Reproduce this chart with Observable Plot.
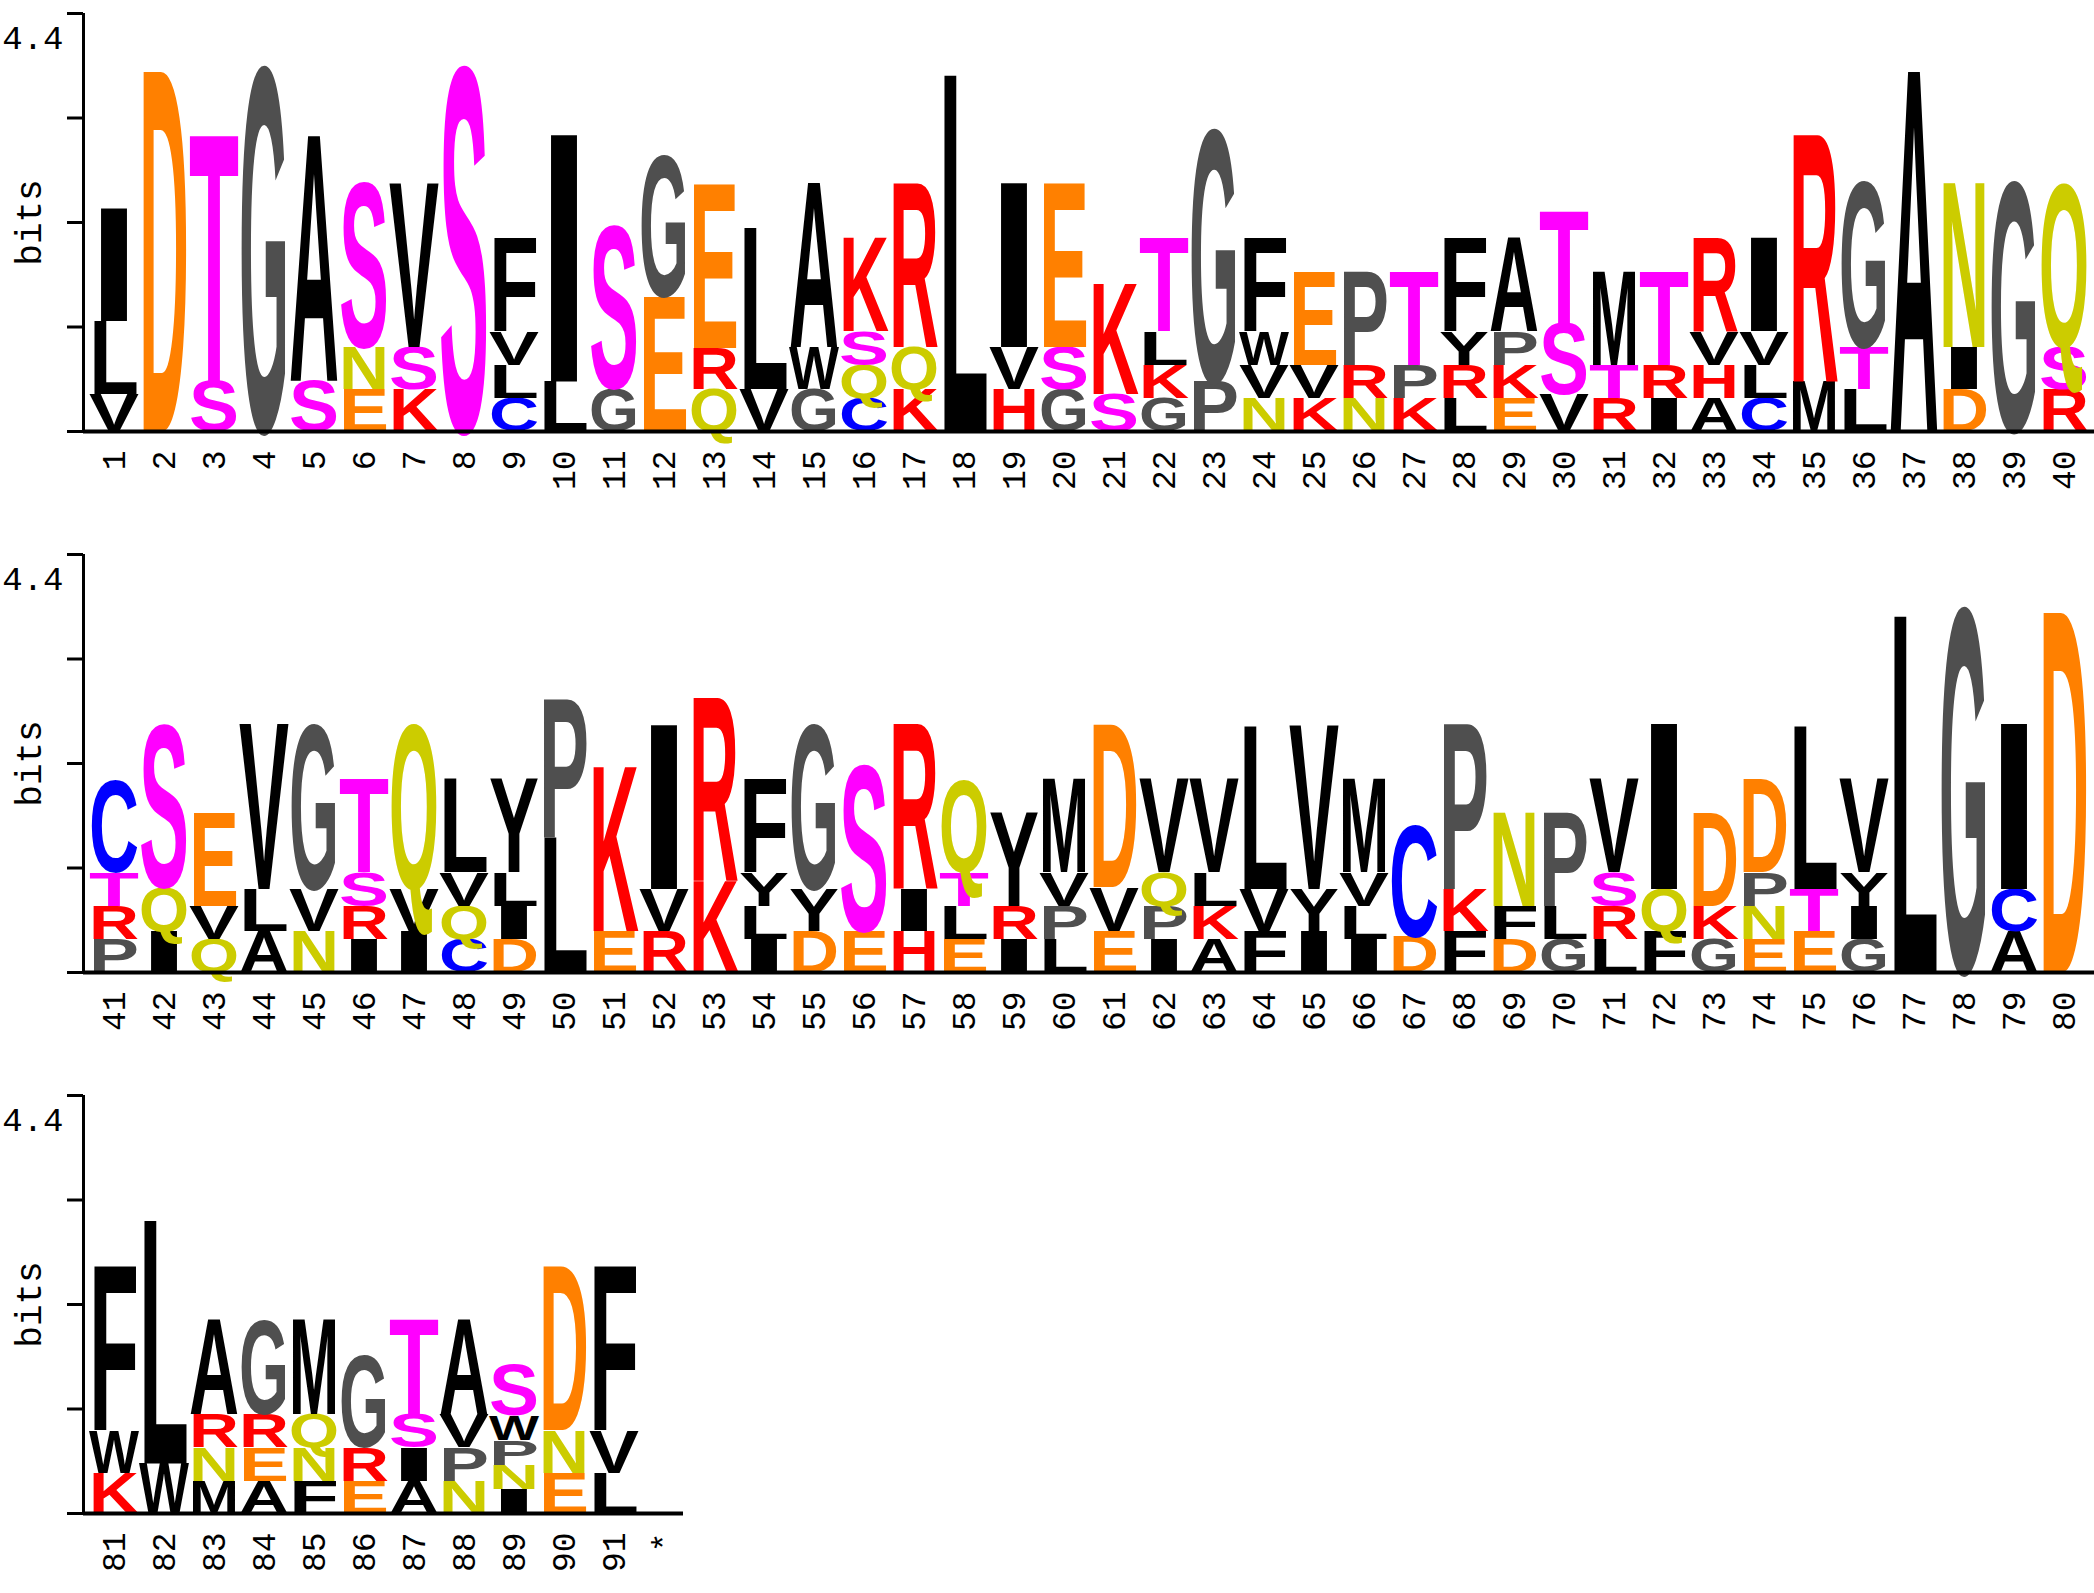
<!DOCTYPE html>
<html>
<head>
<meta charset="utf-8">
<script src="https://cdn.jsdelivr.net/npm/d3@7"></script>
<script src="https://cdn.jsdelivr.net/npm/@observablehq/plot@0.6"></script>
<style>
  html, body { margin: 0; padding: 0; background: #fff; overflow: hidden; }
  svg { display: block; }
</style>
</head>
<body>
<div id="chart"></div>
<script>
// ---- Data: sequence logo, one entry per position (letters bottom -> top, heights in bits) ----
const positionLabels = ["1","2","3","4","5","6","7","8","9","10","11","12","13","14","15","16","17","18","19","20",
  "21","22","23","24","25","26","27","28","29","30","31","32","33","34","35","36","37","38","39","40",
  "41","42","43","44","45","46","47","48","49","50","51","52","53","54","55","56","57","58","59","60",
  "61","62","63","64","65","66","67","68","69","70","71","72","73","74","75","76","77","78","79","80",
  "81","82","83","84","85","86","87","88","89","90","91","*"];

const residues = [
  "VLI","D","ST","G","SA","ENS","KSV","S","CLVF","LI",
  "GS","EG","QRE","VL","GWA","CQSK","KQR","L","HVI","GSE",
  "SK","GKLT","PG","NVWF","KVE","NRP","KPT","LRYF","EKPA","VST",
  "RTM","IRT","AHVR","CLVI","MR","LTG","A","DIN","G","RSQ",
  "PRTC","IQS","QVE","ALV","NVG","IRST","IVQ","CQVL","DILY","LP",
  "EK","RVI","KR","ILYF","DYG","ES","HIR","ELTQ","IRY","LPVM",
  "EVD","IPQV","AKLV","FVL","IYV","ILVM","DC","FKP","DFN","GLP",
  "LRSV","FQI","GKD","ENPD","ETL","GIYV","L","G","ACI","D",
  "KWF","WL","MNRA","AERG","FNQM","ERG","AIST","NPVA","INPWS","END",
  "LVF",""
];

const bits = [
  [0.39,0.77,1.19],[3.79],[0.52,2.59],[3.8],[0.53,2.58],[0.44,0.44,1.71],[0.44,0.44,1.72],[3.8],[0.35,0.35,0.35,0.99],[0.52,2.6],
  [0.45,1.69],[1.42,1.47],[0.44,0.43,1.73],[0.44,1.7],[0.44,0.44,1.72],[0.35,0.35,0.35,0.99],[0.44,0.44,1.72],[3.75],[0.44,0.44,1.72],[0.44,0.44,1.72],
  [0.39,1.16],[0.35,0.35,0.35,0.99],[0.52,2.63],[0.35,0.35,0.35,0.99],[0.35,0.35,0.99],[0.35,0.35,0.99],[0.35,0.35,0.99],[0.35,0.35,0.35,0.99],[0.35,0.35,0.35,0.99],[0.39,0.74,1.18],
  [0.35,0.35,0.99],[0.35,0.35,0.99],[0.35,0.35,0.35,0.99],[0.35,0.35,0.35,0.99],[0.52,2.6],[0.44,0.44,1.72],[3.79],[0.44,0.44,1.72],[2.6],[0.44,0.44,1.7],
  [0.35,0.35,0.35,0.96],[0.43,0.46,1.69],[0.35,0.35,0.99],[0.43,0.44,1.74],[0.43,0.44,1.71],[0.35,0.35,0.35,0.99],[0.43,0.44,1.71],[0.35,0.35,0.35,0.98],[0.35,0.35,0.35,0.98],[1.41,1.46],
  [0.43,1.73],[0.43,0.44,1.73],[0.96,1.93],[0.35,0.35,0.35,0.99],[0.43,0.44,1.71],[0.43,1.72],[0.43,0.44,1.74],[0.35,0.35,0.35,0.96],[0.35,0.35,0.99],[0.35,0.35,0.35,0.99],
  [0.43,0.46,1.71],[0.35,0.35,0.35,0.99],[0.35,0.35,0.35,0.99],[0.43,0.44,1.71],[0.43,0.44,1.72],[0.35,0.35,0.35,0.99],[0.38,1.16],[0.43,0.44,1.74],[0.35,0.35,0.99],[0.35,0.35,0.99],
  [0.35,0.35,0.35,0.99],[0.43,0.44,1.74],[0.35,0.35,0.99],[0.35,0.35,0.35,0.99],[0.43,0.44,1.71],[0.35,0.35,0.35,0.99],[3.75],[3.8],[0.43,0.44,1.74],[3.79],
  [0.42,0.45,1.72],[0.52,2.56],[0.34,0.35,0.35,1.0],[0.34,0.35,0.35,0.97],[0.34,0.35,0.35,1.0],[0.34,0.35,0.96],[0.34,0.35,0.35,1.0],[0.34,0.35,0.35,1.0],[0.25,0.26,0.26,0.26,0.53],[0.42,0.45,1.72],
  [0.42,0.45,1.72],[]
];

const yTicks = [0, 1.1, 2.2, 3.3, 4.4];
const yTickLabel = "4.4";
const yLabel = "bits";

const residueColors = {
  A:"#000000", F:"#000000", I:"#000000", L:"#000000", M:"#000000", V:"#000000", W:"#000000", Y:"#000000",
  G:"#4f4f4f", P:"#4f4f4f",
  S:"#ff00ff", T:"#ff00ff",
  D:"#ff8000", E:"#ff8000",
  H:"#ff0000", K:"#ff0000", R:"#ff0000",
  N:"#cccc00", Q:"#cccc00",
  C:"#0000ff"
};

// ---- Layout of the three logo lines ----
const rows = [
  {first: 1,  last: 40, width: 2094, height: 541, domain: [0.38, 40.6]},
  {first: 41, last: 80, width: 2094, height: 541, domain: [40.38, 80.6]},
  {first: 81, last: 92, width: 683,  height: 511, domain: [80.38, 92.38]}
];

// ---- Build stacked cells ----
const cells = [];
residues.forEach((str, i) => {
  let cum = 0;
  [...str].forEach((letter, j) => {
    const h = bits[i][j];
    cells.push({pos: i + 1, letter, y1: cum, y2: cum + h});
    cum += h;
  });
});
const labels = positionLabels.map((label, i) => ({pos: i + 1, label}));

// glyph metrics
const LETTER_FONT = "Liberation Sans";
const canvas = document.createElement("canvas");
const ctx = canvas.getContext("2d");
ctx.font = `bold 100px "${LETTER_FONT}"`;
let capH = ctx.measureText("E").actualBoundingBoxAscent;
if (!capH || !isFinite(capH) || capH < 40) capH = 68.8;
const advance = {};
function adv(l) {
  if (!(l in advance)) {
    const w = ctx.measureText(l).width;
    advance[l] = (w && isFinite(w) && w > 10) ? w : 72;
  }
  return advance[l];
}

const container = document.getElementById("chart");
const monoFont = "Liberation Mono, DejaVu Sans Mono, monospace";
const SVGNS = "http://www.w3.org/2000/svg";

rows.forEach(row => {
  const rowCells = cells.filter(d => d.pos >= row.first && d.pos <= row.last);
  const rowLabels = labels.filter(d => d.pos >= row.first && d.pos <= row.last);
  const hasAxisMark = typeof Plot.axisY === "function";
  const marks = [
    Plot.rect(rowCells, {x1: d => d.pos - 0.5, x2: d => d.pos + 0.5, y1: "y1", y2: "y2", fill: "white", fillOpacity: 0}),
    Plot.ruleY([0], {strokeWidth: 4}),
    Plot.ruleX([row.domain[0]], {y1: 0, y2: 4.4, strokeWidth: 3}),
    Plot.text([yTickLabel], {y: () => 4.4, frameAnchor: "left", text: d => d, textAnchor: "end", dx: -20, dy: 25, fontSize: 34, fontFamily: monoFont, fill: "#000"}),
    Plot.text([yLabel], {y: () => 2.2, frameAnchor: "left", text: d => d, rotate: -90, textAnchor: "middle", dx: -54, fontSize: 36, fontFamily: monoFont, fill: "#000"}),
    Plot.text(rowLabels, {x: "pos", y: () => 0, text: "label", rotate: -90, textAnchor: "end", dy: 19, fontSize: 33, fontFamily: monoFont, fill: "#000"})
  ];
  if (hasAxisMark) marks.push(Plot.axisY({ticks: yTicks, tickSize: 16, tickFormat: () => "", strokeWidth: 3, label: null}));
  const svg = Plot.plot({
    width: row.width,
    height: row.height,
    marginLeft: 83,
    marginRight: 0,
    marginTop: 13,
    marginBottom: row.height - 431,
    style: {background: "white", overflow: "visible"},
    x: {type: "linear", domain: row.domain, axis: null},
    y: hasAxisMark ? {domain: [0, 4.4], axis: null}
                   : {domain: [0, 4.4], ticks: yTicks, tickSize: 16, tickFormat: () => "", label: null},
    marks
  });
  container.appendChild(svg);

  // Draw each stacked cell as its residue letter, stretched to fill the cell (positions via Plot's scales)
  const xs = svg.scale("x"), ys = svg.scale("y");
  const g = document.createElementNS(SVGNS, "g");
  g.setAttribute("aria-label", "residue letters");
  g.setAttribute("text-anchor", "start");
  rowCells.forEach(d => {
    const xL = xs.apply(d.pos - 0.5), xR = xs.apply(d.pos + 0.5);
    const yB = ys.apply(d.y1), yT = ys.apply(d.y2);
    const w = xR - xL, h = yB - yT;
    const t = document.createElementNS(SVGNS, "text");
    t.textContent = d.letter;
    t.setAttribute("x", "0");
    t.setAttribute("y", "0");
    t.setAttribute("text-anchor", "start");
    t.setAttribute("font-family", `${LETTER_FONT}, Arial, sans-serif`);
    t.setAttribute("font-weight", "bold");
    t.setAttribute("font-size", "100");
    t.setAttribute("fill", residueColors[d.letter] || "#000");
    t.setAttribute("transform", `translate(${xL},${yB}) scale(${w / adv(d.letter)},${h / capH})`);
    g.appendChild(t);
  });
  // put letters under the axes lines
  const firstRule = svg.querySelector('g[aria-label="rule"]');
  if (firstRule) svg.insertBefore(g, firstRule); else svg.appendChild(g);
});
</script>
</body>
</html>
